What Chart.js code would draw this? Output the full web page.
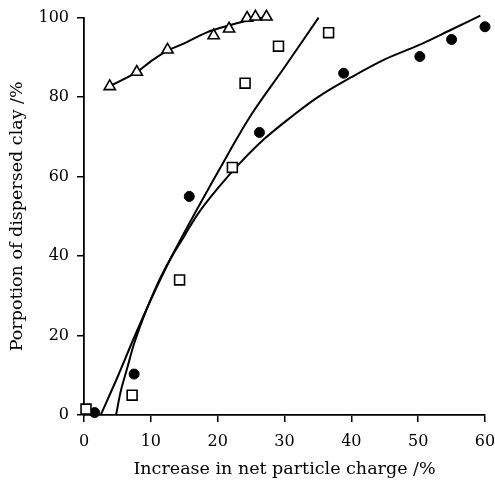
<!DOCTYPE html>
<html>
<head>
<meta charset="utf-8">
<script src="https://cdn.jsdelivr.net/npm/chart.js@4"></script>
<style>
  html, body { margin: 0; padding: 0; background: #fff; }
  #wrap { width: 495px; height: 485px; position: relative; }
</style>
</head>
<body>
<div id="wrap"><canvas id="c"></canvas></div>
<script>
// Markers
const triX = [3.85, 7.9, 12.5, 19.4, 21.7, 24.4, 25.65, 27.3];
const triY = [82.7, 86.3, 91.9, 95.5, 97.2, 99.9, 100.2, 100.2];

const sqX = [0.3, 7.2, 14.3, 22.2, 24.1, 29.1, 36.6];
const sqY = [1.5, 5.0, 34.0, 62.3, 83.5, 92.8, 96.2];

const circX = [1.6, 7.5, 15.75, 26.25, 38.85, 50.25, 55.0, 60.0];
const circY = [0.6, 10.3, 55.0, 71.1, 86.0, 90.2, 94.5, 97.7];

// Fitted curves
const triFitX = [3.8, 7.9, 10, 12.5, 15, 18.4, 21.6, 24.4, 26.8];
const triFitY = [82.7, 86.3, 89, 91.7, 93.5, 96.3, 98, 99.2, 100];

const sqFitX = [2.5, 5, 7.5, 10, 13, 17, 21.5, 25, 30, 35.1];
const sqFitY = [0, 9.5, 19.5, 29, 39.5, 52, 65.5, 75.5, 87.5, 100];

const circFitX = [4.8, 5.5, 6.5, 7.5, 9, 11, 13, 15, 17, 20, 23.4, 27, 31, 35, 40, 45, 50, 55, 59.3];
const circFitY = [0, 6, 12, 18, 25, 33, 39.5, 45, 50.5, 57, 63.5, 69.5, 75, 80, 85, 89.5, 93, 97, 100.5];

const xTicks = [0, 10, 20, 30, 40, 50, 60];
const yTicks = [0, 20, 40, 60, 80, 100];

const xTitle = 'Increase in net particle charge /%';
const yTitle = 'Porpotion of dispersed clay /%';

const pts = (xs, ys) => xs.map((x, i) => ({ x: x, y: ys[i] }));
const FONT = "'DejaVu Serif', 'Liberation Serif', serif";

const markerBase = { showLine: false, borderColor: '#000', clip: false };
const lineBase = { showLine: true, pointRadius: 0, borderColor: '#000', borderWidth: 2, tension: 0.35, fill: false, clip: false };

new Chart(document.getElementById('c'), {
  type: 'scatter',
  data: {
    datasets: [
      Object.assign({ data: pts(triX, triY), pointStyle: 'triangle', pointRadius: 6.5, pointBorderWidth: 1.6, backgroundColor: '#fff' }, markerBase),
      Object.assign({ data: pts(sqX, sqY), pointStyle: 'rect', pointRadius: 7, pointBorderWidth: 1.6, backgroundColor: '#fff' }, markerBase),
      Object.assign({ data: pts(circX, circY), pointStyle: 'circle', pointRadius: 5, pointBorderWidth: 1, backgroundColor: '#000' }, markerBase),
      Object.assign({ data: pts(triFitX, triFitY) }, lineBase),
      Object.assign({ data: pts(sqFitX, sqFitY) }, lineBase),
      Object.assign({ data: pts(circFitX, circFitY) }, lineBase)
    ]
  },
  options: {
    responsive: true,
    maintainAspectRatio: false,
    animation: false,
    events: [],
    layout: { padding: { left: 0, right: 1, top: 17, bottom: 0 } },
    plugins: { legend: { display: false }, tooltip: { enabled: false } },
    scales: {
      x: {
        type: 'linear', min: 0, max: 60,
        afterFit: s => { s.height = 70; s.paddingRight = 10; },
        afterBuildTicks: s => { s.ticks = xTicks.map(v => ({ value: v })); },
        grid: { drawOnChartArea: false, drawTicks: true, tickLength: 7, color: '#000', lineWidth: 1.5 },
        border: { display: true, color: '#000', width: 1.8 },
        ticks: { color: '#000', font: { family: FONT, size: 16 }, padding: 10 },
        title: { display: true, text: xTitle, color: '#000', font: { family: FONT, size: 17.5 }, padding: { top: 0, bottom: 5 } }
      },
      y: {
        type: 'linear', min: 0, max: 100,
        afterFit: s => { s.width = 84; },
        afterBuildTicks: s => { s.ticks = yTicks.map(v => ({ value: v })); },
        grid: { drawOnChartArea: false, drawTicks: true, tickLength: 7, color: '#000', lineWidth: 1.5 },
        border: { display: true, color: '#000', width: 1.8 },
        ticks: { color: '#000', font: { family: FONT, size: 16 }, padding: 8 },
        title: { display: true, text: yTitle, color: '#000', font: { family: FONT, size: 17.5 }, padding: { top: 7, bottom: 0 } }
      }
    }
  }
});
</script>
</body>
</html>
